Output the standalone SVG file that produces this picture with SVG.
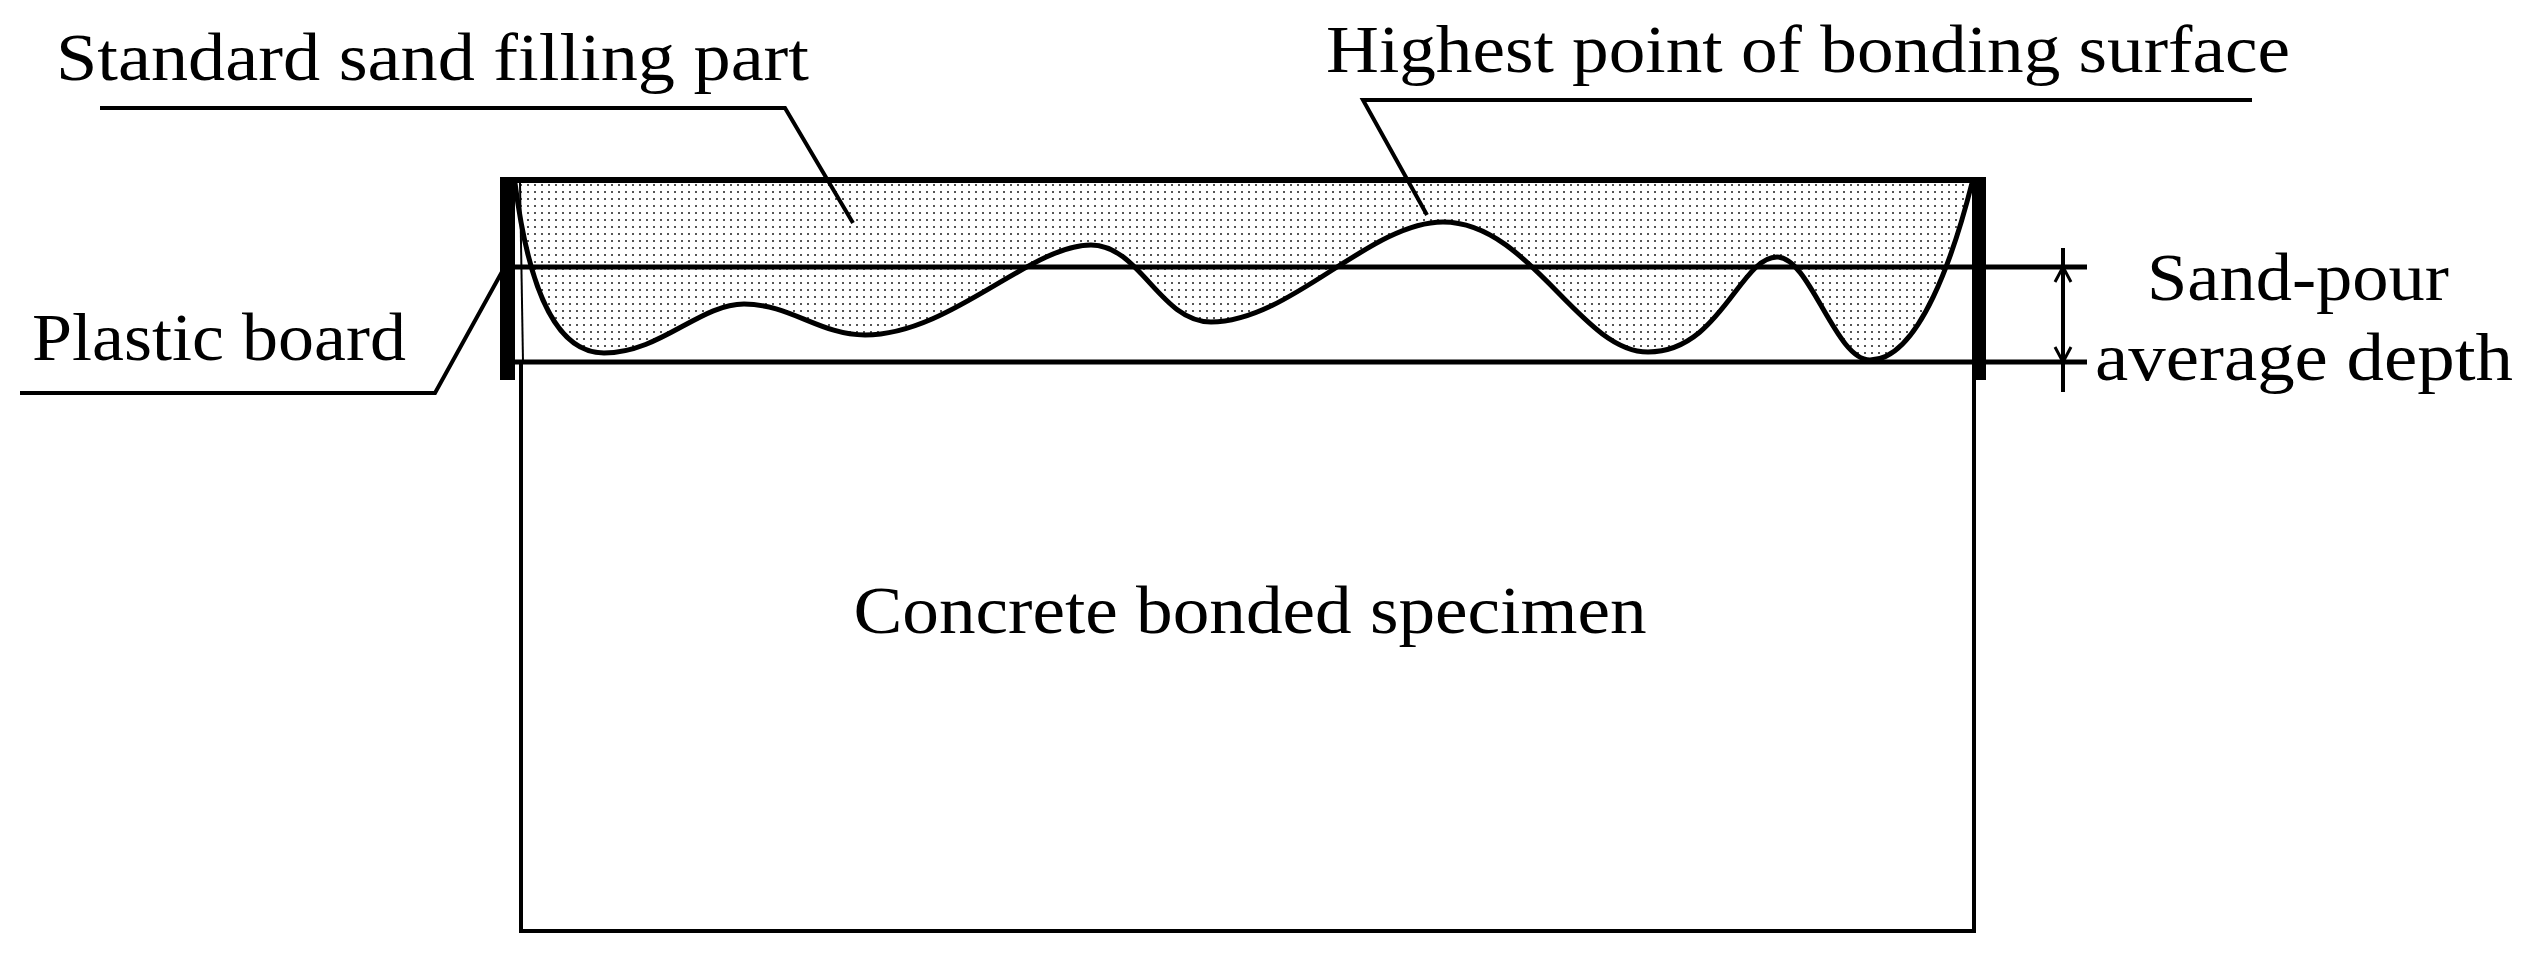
<svg xmlns="http://www.w3.org/2000/svg" width="2525" height="976" viewBox="0 0 2525 976">
<defs>
<pattern id="dots" width="7" height="7" patternUnits="userSpaceOnUse"><rect x="2" y="2" width="2" height="2" fill="#555"/></pattern>
<style>
text{font-family:"Liberation Serif","Times New Roman",serif;font-size:68px;fill:#000}
.l{stroke:#000;fill:none}
</style>
</defs>
<rect width="2525" height="976" fill="#fff"/>
<g id="sand">
<path d="M515,183 C530,300 560,353 604,353 C660,353 700,304 744,304 C790,304 820,335 865,335 C950,335 1030,245 1091,245 C1140,245 1160,322 1211,322 C1290,322 1370,222 1443,222 C1530,222 1580,352 1648,352 C1720,352 1740,257 1777,257 C1810,257 1835,360 1870,360 C1920,360 1955,250 1972,183 L1972,180 L515,180 Z" fill="url(#dots)"/>
<path class="l" stroke-width="5" d="M515,183 C530,300 560,353 604,353 C660,353 700,304 744,304 C790,304 820,335 865,335 C950,335 1030,245 1091,245 C1140,245 1160,322 1211,322 C1290,322 1370,222 1443,222 C1530,222 1580,352 1648,352 C1720,352 1740,257 1777,257 C1810,257 1835,360 1870,360 C1920,360 1955,250 1972,183"/>
</g>
<g id="specimen">
<rect class="l" x="521" y="362" width="1453" height="569" stroke-width="4"/>
<text x="1250" y="633" text-anchor="middle" textLength="793" lengthAdjust="spacingAndGlyphs">Concrete bonded specimen</text>
</g>
<g id="mould">
<line class="l" x1="507" y1="180" x2="1986" y2="180" stroke-width="6"/>
<rect x="500" y="177" width="15" height="203" fill="#000"/>
<rect x="1972" y="177" width="14" height="203" fill="#000"/>
<line class="l" x1="520" y1="183" x2="523" y2="362" stroke-width="2"/>
<line class="l" x1="515" y1="267" x2="2087" y2="267" stroke-width="5"/>
<line class="l" x1="515" y1="362" x2="2087" y2="362" stroke-width="5"/>
</g>
<g id="connectors">
<path class="l" stroke-width="4" d="M100,108 H785 L853,223"/>
<path class="l" stroke-width="4" d="M2252,100 H1363 L1427,215"/>
<path class="l" stroke-width="4" d="M20,393 H435 L503,270"/>
<line class="l" x1="2063" y1="248" x2="2063" y2="392" stroke-width="4"/>
<path class="l" stroke-width="3" d="M2055,282 L2063,267 L2071,282 M2055,347 L2063,362 L2071,347"/>
</g>
<g id="labels">
<text x="56" y="80" textLength="753" lengthAdjust="spacingAndGlyphs">Standard sand filling part</text>
<text x="1326" y="72" textLength="964" lengthAdjust="spacingAndGlyphs">Highest point of bonding surface</text>
<text x="32" y="360" textLength="374" lengthAdjust="spacingAndGlyphs">Plastic board</text>
<text x="2147" y="300" textLength="302" lengthAdjust="spacingAndGlyphs">Sand-pour</text>
<text x="2095" y="380" textLength="418" lengthAdjust="spacingAndGlyphs">average depth</text>
</g>
</svg>
